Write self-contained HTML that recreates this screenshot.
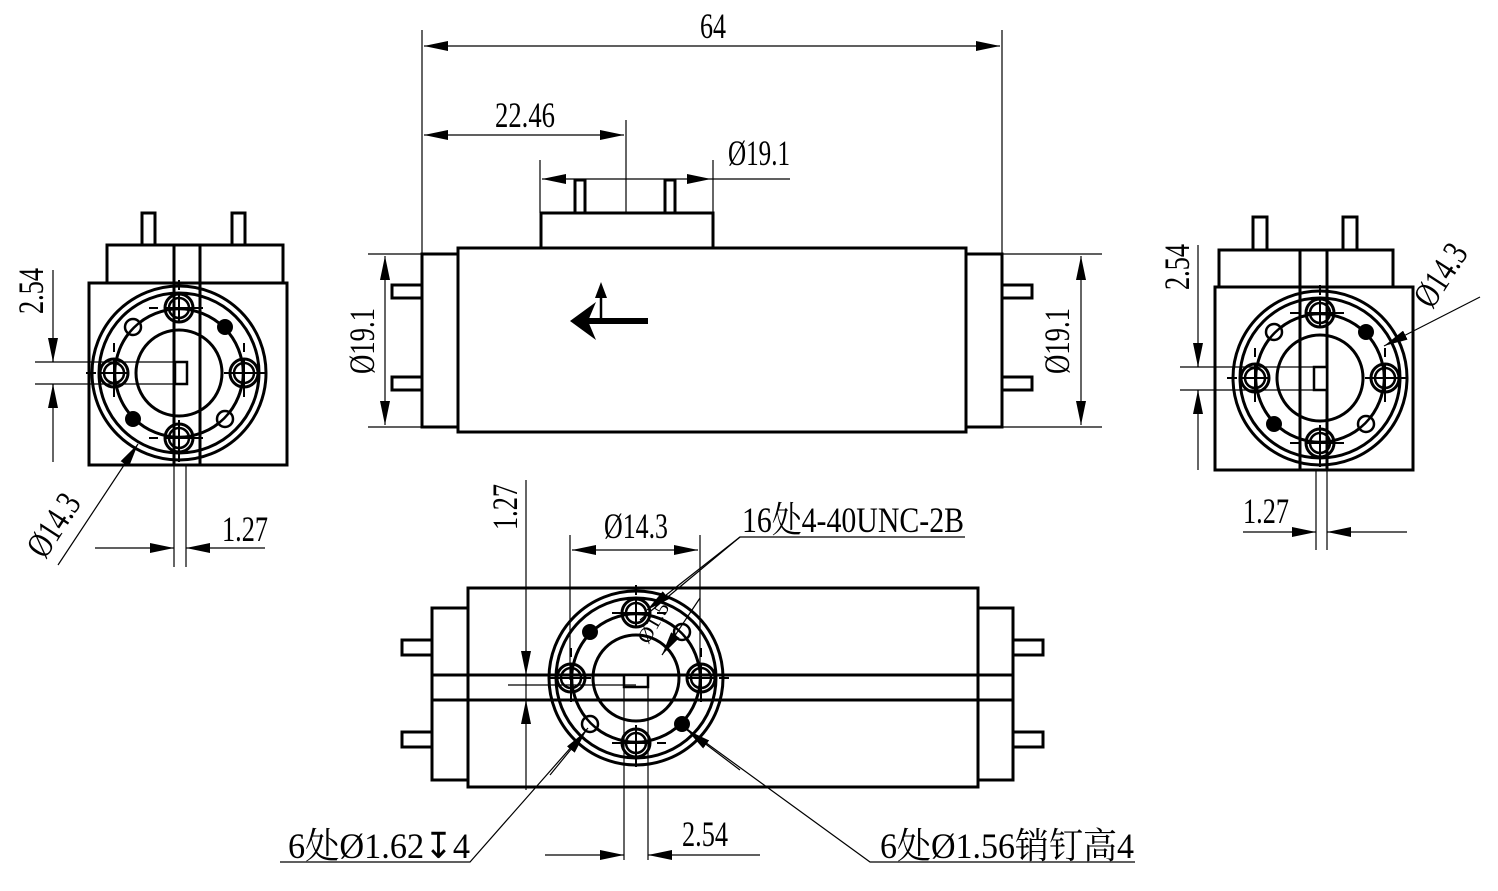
<!DOCTYPE html>
<html><head><meta charset="utf-8"><style>
html,body{margin:0;padding:0;background:#fff}
svg{display:block}
text{font-family:"Liberation Serif","Noto Serif CJK SC",serif;fill:#000}
</style></head><body>
<svg width="1498" height="891" viewBox="0 0 1498 891" xmlns="http://www.w3.org/2000/svg">
<defs>
<marker id="a" viewBox="0 0 24 10" refX="24" refY="5" markerWidth="24" markerHeight="10" markerUnits="userSpaceOnUse" orient="auto-start-reverse"><path d="M0,0L24,5L0,10z" fill="#000"/></marker>
<g id="hole">
<circle r="14" fill="#fff" stroke="#000" stroke-width="3"/>
<circle r="10" fill="none" stroke="#000" stroke-width="2.5"/>
<path d="M-14,0H14M0,-14V14" stroke="#000" stroke-width="2"/>
</g>
<g id="pat">
<circle r="87" fill="none" stroke="#000" stroke-width="3"/>
<circle r="80" fill="none" stroke="#000" stroke-width="3"/>
<circle r="64" fill="none" stroke="#000" stroke-width="3"/>
<circle r="43" fill="#fff" stroke="#000" stroke-width="3"/>
<path d="M-93,0H-45M45,0H93M0,-93V-47M0,47V93" stroke="#000" stroke-width="2" stroke-dasharray="10,6"/>
<path d="M-30,-65H30M-30,65H30M-65,-30V30M65,-30V30" stroke="#000" stroke-width="2" stroke-dasharray="9,6"/>
<use href="#hole" x="0" y="-65"/><use href="#hole" x="-65" y="0"/><use href="#hole" x="65" y="0"/><use href="#hole" x="0" y="65"/>
<circle cx="-46" cy="-46" r="8" fill="#fff" stroke="#000" stroke-width="2.5"/>
<circle cx="46" cy="46" r="8" fill="#fff" stroke="#000" stroke-width="2.5"/>
<circle cx="46" cy="-46" r="7.5" fill="#000"/>
<circle cx="-46" cy="46" r="7.5" fill="#000"/>
</g>
</defs>

<g fill="none" stroke="#000">
<!-- TOP VIEW -->
<g stroke-width="3">
<rect x="458" y="248" width="508" height="184"/>
<rect x="422" y="254" width="36" height="173"/>
<rect x="966" y="254" width="36" height="173"/>
<rect x="541" y="213" width="172" height="35"/>
<rect x="575" y="180" width="10" height="33"/>
<rect x="665" y="180" width="10" height="33"/>
<path d="M422,285H392V298H422M422,377H392V390H422"/>
<path d="M1002,285H1032V298H1002M1002,377H1032V390H1002"/>
</g>
<path d="M588,321H648" stroke-width="6"/>
<path d="M601,318V290" stroke-width="2.5"/>
<path d="M601,282L595,298H607z" fill="#000" stroke="none"/>
<path d="M570,321L596,302L588,321L596,340z" fill="#000" stroke="none"/>
<g stroke-width="1.2">
<path d="M422,30V254M1002,30V254"/>
<path d="M424,46H1000" marker-start="url(#a)" marker-end="url(#a)"/>
<path d="M626,120V213"/>
<path d="M424,135H624" marker-start="url(#a)" marker-end="url(#a)"/>
<path d="M540,160V213M713,160V213"/>
<path d="M542,179H711" marker-start="url(#a)" marker-end="url(#a)"/>
<path d="M711,179H790"/>
<path d="M368,254H422M368,427H422"/>
<path d="M385,256V425" marker-start="url(#a)" marker-end="url(#a)"/>
<path d="M1002,254H1102M1002,427H1102"/>
<path d="M1081,256V425" marker-start="url(#a)" marker-end="url(#a)"/>
</g>

<!-- LEFT END VIEW -->
<g stroke-width="3">
<rect x="89" y="283" width="198" height="182"/>
<rect x="107" y="245" width="176" height="38"/>
<rect x="142" y="213" width="13" height="32"/>
<rect x="232" y="213" width="13" height="32"/>
</g>
<use href="#pat" x="179" y="373"/>
<circle cx="179" cy="373" r="64" stroke-width="2.5"/>
<path d="M174,245V465M200,245V465" stroke-width="3"/>
<rect x="175" y="362" width="12" height="22" stroke-width="2.5" fill="#fff"/>
<g stroke-width="1.2">
<path d="M35,362H178M35,384H178"/>
<path d="M53,270V362M53,384V462"/>
<path d="M53,338V362" marker-end="url(#a)"/>
<path d="M53,408V384" marker-end="url(#a)"/>
<path d="M174,465V567M186,465V567"/>
<path d="M95,548H174" marker-end="url(#a)"/>
<path d="M265,548H186" marker-end="url(#a)"/>
<path d="M58,565L138,444" marker-end="url(#a)"/>
</g>

<!-- RIGHT END VIEW -->
<g stroke-width="3">
<rect x="1215" y="287" width="198" height="183"/>
<rect x="1219" y="250" width="174" height="37"/>
<rect x="1253" y="217" width="14" height="33"/>
<rect x="1343" y="217" width="14" height="33"/>
</g>
<use href="#pat" x="1320" y="378"/>
<circle cx="1320" cy="378" r="64" stroke-width="2.5"/>
<path d="M1300,250V470M1327,250V470" stroke-width="3"/>
<rect x="1314" y="367" width="13" height="23" stroke-width="2.5" fill="#fff"/>
<g stroke-width="1.2">
<path d="M1180,367H1320M1180,390H1320"/>
<path d="M1198,245V367M1198,390V470"/>
<path d="M1198,343V367" marker-end="url(#a)"/>
<path d="M1198,414V390" marker-end="url(#a)"/>
<path d="M1316,470V550M1327,470V550"/>
<path d="M1243,532H1316" marker-end="url(#a)"/>
<path d="M1407,532H1327" marker-end="url(#a)"/>
<path d="M1480,297L1384,346" marker-end="url(#a)"/>
</g>

<!-- BOTTOM VIEW -->
<g stroke-width="3">
<rect x="468" y="588" width="510" height="199"/>
<rect x="432" y="608" width="36" height="172"/>
<rect x="978" y="608" width="35" height="172"/>
<path d="M432,640H402V655H432M432,732H402V747H432"/>
<path d="M1013,640H1043V655H1013M1013,732H1043V747H1013"/>
</g>
<g transform="translate(636,678) scale(-1,1)"><use href="#pat"/></g>
<circle cx="636" cy="678" r="64" stroke-width="2.5"/>
<path d="M432,675H1013M432,700H1013" stroke-width="3"/>
<rect x="624" y="675" width="24" height="12" stroke-width="2.5" fill="#fff"/>
<g stroke-width="1.2">
<path d="M624,687V860M648,687V860"/>
<path d="M508,685H636"/>
<path d="M526,480V790"/>
<path d="M526,650V675" marker-end="url(#a)"/>
<path d="M526,720V700" marker-end="url(#a)"/>
<path d="M570,535V680M700,535V680"/>
<path d="M572,550H698" marker-start="url(#a)" marker-end="url(#a)"/>
<path d="M965,537H740L640,620"/>
<path d="M740,537L647,610" marker-end="url(#a)"/>
<path d="M700,598L662,655" marker-end="url(#a)"/>
<path d="M280,862H470L588,728"/>
<path d="M550,775L586,731" marker-end="url(#a)"/>
<path d="M1135,862H870L687,729"/>
<path d="M740,770L687,730" marker-end="url(#a)"/>
<path d="M545,855H624" marker-end="url(#a)"/>
<path d="M760,855H648" marker-end="url(#a)"/>
</g>
</g>

<!-- TEXT -->
<g font-size="36">
<text x="700" y="38" textLength="26" lengthAdjust="spacingAndGlyphs">64</text>
<text x="495" y="127" textLength="60" lengthAdjust="spacingAndGlyphs">22.46</text>
<text x="728" y="165" textLength="62" lengthAdjust="spacingAndGlyphs">Ø19.1</text>
<text transform="translate(374,374) rotate(-90)" textLength="66" lengthAdjust="spacingAndGlyphs">Ø19.1</text>
<text transform="translate(1069,374) rotate(-90)" textLength="66" lengthAdjust="spacingAndGlyphs">Ø19.1</text>
<text transform="translate(43,314) rotate(-90)" textLength="46" lengthAdjust="spacingAndGlyphs">2.54</text>
<text x="222" y="541" textLength="46" lengthAdjust="spacingAndGlyphs">1.27</text>
<text transform="translate(45,560) rotate(-57)" textLength="68" lengthAdjust="spacingAndGlyphs">Ø14.3</text>
<text transform="translate(1189,290) rotate(-90)" textLength="46" lengthAdjust="spacingAndGlyphs">2.54</text>
<text x="1243" y="523" textLength="46" lengthAdjust="spacingAndGlyphs">1.27</text>
<text transform="translate(1432,310) rotate(-57)" textLength="68" lengthAdjust="spacingAndGlyphs">Ø14.3</text>
<text transform="translate(517,530) rotate(-90)" textLength="46" lengthAdjust="spacingAndGlyphs">1.27</text>
<text x="604" y="538" textLength="64" lengthAdjust="spacingAndGlyphs">Ø14.3</text>
<text x="742" y="532" textLength="222" lengthAdjust="spacingAndGlyphs">16处4-40UNC-2B</text>
<text x="682" y="846" textLength="46" lengthAdjust="spacingAndGlyphs">2.54</text>
<text x="288" y="858" textLength="182" lengthAdjust="spacingAndGlyphs">6处Ø1.62↧4</text>
<text x="880" y="858" textLength="254" lengthAdjust="spacingAndGlyphs">6处Ø1.56销钉高4</text>
</g>
<text transform="translate(648,645) rotate(-60)" font-size="20" textLength="44" lengthAdjust="spacingAndGlyphs">Ø1.5</text>
</svg>
</body></html>
